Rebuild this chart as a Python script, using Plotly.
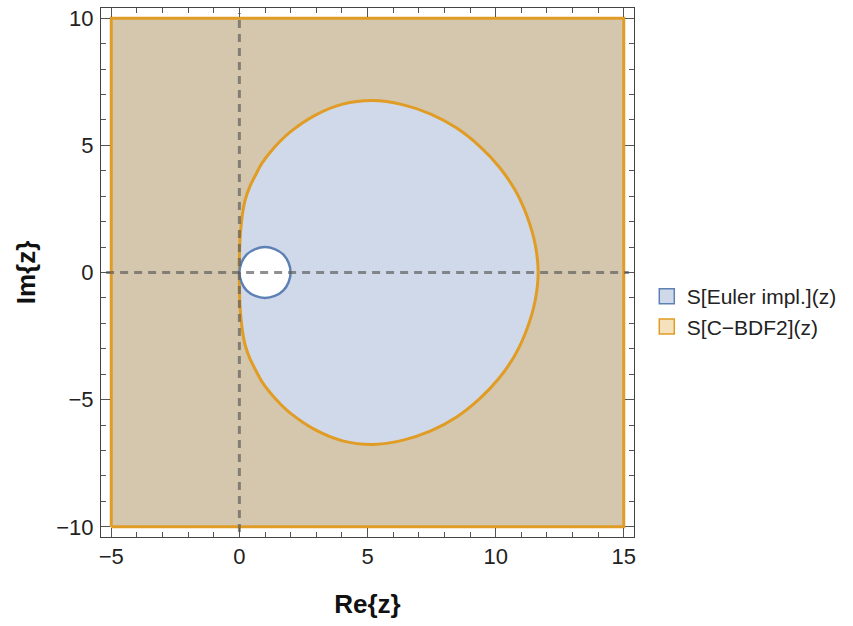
import plotly.graph_objects as go

# ---------------- data ----------------
# plotting box of the regions
box_re = [-5, 15, 15, -5, -5]
box_im = [-10, -10, 10, 10, -10]

# upper half of the C-BDF2 stability boundary (symmetric about Re axis)
bdf2_re_upper = [0.00, 0.00, 0.01, 0.03, 0.07, 0.13, 0.23, 0.40, 0.63, 0.89, 1.22,
                 1.59, 2.00, 2.95, 4.03, 5.20, 6.36, 7.47, 8.48, 9.37, 10.14,
                 10.77, 11.23, 11.54, 11.66]
bdf2_im_upper = [0.00, 0.46, 0.92, 1.39, 1.87, 2.37, 2.87, 3.36, 3.83, 4.31, 4.75,
                 5.16, 5.54, 6.18, 6.62, 6.76, 6.60, 6.23, 5.68, 4.97, 4.15,
                 3.22, 2.20, 1.12, 0.00]

# implicit Euler boundary |z-1| = 1
euler_re = [2.0, 1.92, 1.71, 1.38, 1.0, 0.62, 0.29, 0.08, 0.0,
            0.08, 0.29, 0.62, 1.0, 1.38, 1.71, 1.92, 2.0]
euler_im = [0.0, 0.38, 0.71, 0.92, 1.0, 0.92, 0.71, 0.38, 0.0,
            -0.38, -0.71, -0.92, -1.0, -0.92, -0.71, -0.38, 0.0]

x_ticks = [-5, 0, 5, 10, 15]
y_ticks = [-10, -5, 0, 5, 10]
x_range = [-5.4, 15.4]
y_range = [-10.4, 10.4]

legend_names = ["S[Euler impl.](z)", "S[C\u2212BDF2](z)"]

# ---------------- styles ----------------
BLUE = "#5e81b5"
ORANGE = "#e09c24"
BLUE_FILL = "#cfd9e9"
ORANGE_FILL = "#f6e1bd"
BOTH_FILL = "#d4c7ae"
FONT = "Liberation Sans, Arial, sans-serif"
DASH_COL = "rgba(92,92,92,0.68)"

bdf2_re = bdf2_re_upper + bdf2_re_upper[::-1][1:]
bdf2_im = bdf2_im_upper + [-v for v in bdf2_im_upper[::-1][1:]]

fig = go.Figure()

# region where both methods are stable
fig.add_trace(go.Scatter(x=box_re, y=box_im, mode="lines", fill="toself",
                         fillcolor=BOTH_FILL, line=dict(color=ORANGE, width=3),
                         showlegend=False, hoverinfo="skip"))
# inside C-BDF2 boundary: only implicit Euler stable
fig.add_trace(go.Scatter(x=bdf2_re, y=bdf2_im, mode="lines", fill="toself",
                         fillcolor=BLUE_FILL,
                         line=dict(color=ORANGE, width=3, shape="spline", smoothing=1.0),
                         showlegend=False, hoverinfo="skip"))
# inside Euler circle: none stable
fig.add_trace(go.Scatter(x=euler_re, y=euler_im, mode="lines", fill="toself",
                         fillcolor="white",
                         line=dict(color=BLUE, width=2.5, shape="spline", smoothing=1.0),
                         showlegend=False, hoverinfo="skip"))

# dashed axes
fig.add_trace(go.Scatter(x=[x_range[0] + 0.2, x_range[1] - 0.2], y=[0, 0], mode="lines",
                         line=dict(color=DASH_COL, width=3, dash="8px,6px"),
                         showlegend=False, hoverinfo="skip"))
fig.add_trace(go.Scatter(x=[0, 0], y=[y_range[0] + 0.2, y_range[1] - 0.2], mode="lines",
                         line=dict(color=DASH_COL, width=3, dash="8px,6px"),
                         showlegend=False, hoverinfo="skip"))

# legend entries
fig.add_trace(go.Scatter(x=[None], y=[None], mode="markers", name=legend_names[0],
                         marker=dict(symbol="square", size=15, color=BLUE_FILL,
                                     line=dict(color=BLUE, width=1.5))))
fig.add_trace(go.Scatter(x=[None], y=[None], mode="markers", name=legend_names[1],
                         marker=dict(symbol="square", size=15, color=ORANGE_FILL,
                                     line=dict(color=ORANGE, width=1.5))))

axis_common = dict(showgrid=False, zeroline=False, showline=True, linecolor="#444",
                   linewidth=1, mirror="allticks", ticks="inside", ticklen=9,
                   tickwidth=1, tickcolor="#555",
                   tickfont=dict(family=FONT, size=22, color="#222"),
                   minor=dict(dtick=1, ticks="inside", ticklen=5, tickwidth=1, tickcolor="#555"))

fig.update_xaxes(range=x_range, tickvals=x_ticks,
                 title=dict(text="Re{z}", font=dict(family=FONT, size=26, color="#111", weight="bold"),
                            standoff=26),
                 **axis_common)
fig.update_yaxes(range=y_range, tickvals=y_ticks, ticklabelstandoff=2,
                 title=dict(text="Im{z}", font=dict(family=FONT, size=26, color="#111", weight="bold"),
                            standoff=13),
                 **axis_common)

fig.update_layout(width=853, height=626,
                  margin=dict(l=101, r=219, t=6, b=89),
                  paper_bgcolor="white", plot_bgcolor="white",
                  legend=dict(x=1.024, xanchor="left", y=0.426, yanchor="middle",
                              font=dict(family=FONT, size=21, color="#222"),
                              itemwidth=30, tracegroupgap=0, bgcolor="rgba(0,0,0,0)"))

fig.write_html("out.html", config={"displayModeBar": False},
               post_script="document.body.style.margin='0';document.body.style.padding='0';")
